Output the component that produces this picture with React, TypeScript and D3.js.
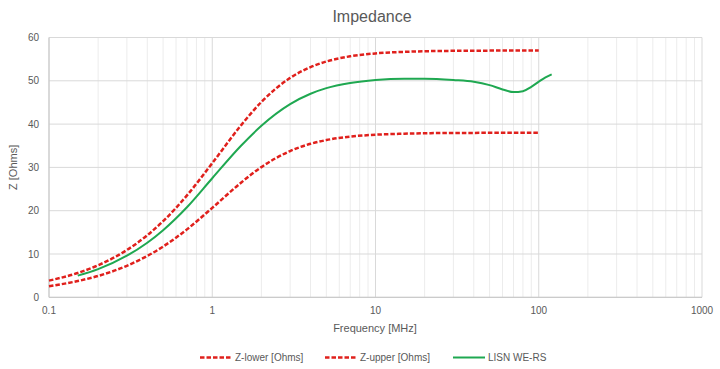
import React from "react";
import * as d3 from "d3";

// frequency [MHz] grid for the limit curves
const limitFreq = [0.1, 0.15, 0.2, 0.3, 0.4, 0.5, 0.7, 1, 1.5, 2, 3, 4, 5, 7, 10, 15, 20, 30, 50, 70, 100];
const zLower = [2.56, 3.75, 4.93, 7.28, 9.55, 11.72, 15.69, 20.65, 26.47, 30.07, 33.78, 35.45, 36.31, 37.11, 37.55, 37.78, 37.89, 37.95, 37.98, 37.99, 38];
const zUpper = [3.85, 5.62, 7.4, 10.92, 14.33, 17.58, 23.53, 30.98, 39.71, 45.11, 50.67, 53.17, 54.46, 55.66, 56.33, 56.68, 56.83, 56.92, 56.97, 56.99, 57];

// measured LISN
const lisnFreq = [0.15, 0.2, 0.3, 0.4, 0.5, 0.7, 1, 1.5, 2, 3, 4, 5, 7, 10, 15, 20, 30, 40, 50, 60, 70, 80, 90, 100, 110, 120];
const lisnZ = [5.0, 6.5, 9.6, 12.6, 15.5, 20.8, 27.5, 35.0, 39.6, 44.6, 47.0, 48.3, 49.5, 50.2, 50.5, 50.5, 50.2, 49.8, 49.0, 48.0, 47.4, 47.6, 48.6, 49.8, 50.8, 51.5];

const xTicks = [0.1, 1, 10, 100, 1000];
const yTicks = [0, 10, 20, 30, 40, 50, 60];

const RED = "#e0201c";
const GREEN = "#1fa851";
const TEXT = "#595959";
const FONT = "'Liberation Sans', Arial, sans-serif";

export default function App() {
  const width = 720;
  const height = 369;
  const left = 49;
  const right = 702;
  const top = 37.5;
  const bottom = 297.3;

  const x = d3.scaleLog().domain([0.1, 1000]).range([left, right]);
  const y = d3.scaleLinear().domain([0, 60]).range([bottom, top]);

  const line = d3
    .line<[number, number]>()
    .x((d) => x(d[0]))
    .y((d) => y(d[1]))
    .curve(d3.curveMonotoneX);

  const minor: number[] = [];
  [0.1, 1, 10, 100].forEach((dec) => {
    for (let k = 2; k <= 9; k++) minor.push(dec * k);
  });

  const lowerPath = line(limitFreq.map((f, i) => [f, zLower[i]]));
  const upperPath = line(limitFreq.map((f, i) => [f, zUpper[i]]));
  const lisnPath = line(lisnFreq.map((f, i) => [f, lisnZ[i]]));

  const legend = [
    { label: "Z-lower [Ohms]", color: RED, dash: "4.5,2", x: 200 },
    { label: "Z-upper [Ohms]", color: RED, dash: "4.5,2", x: 325 },
    { label: "LISN WE-RS", color: GREEN, dash: undefined, x: 453 },
  ];

  return (
    <svg
      width={width}
      height={height}
      style={{ position: "absolute", left: 0, top: 0, background: "#fff" }}
      fontFamily={FONT}
    >
      <text x={372} y={22} textAnchor="middle" fontSize={16} fill={TEXT}>
        Impedance
      </text>

      {/* minor grid */}
      {minor.map((m) => (
        <line key={m} x1={x(m)} x2={x(m)} y1={top} y2={bottom} stroke="#ececec" strokeWidth={1} />
      ))}
      {xTicks.map((t) => (
        <line key={t} x1={x(t)} x2={x(t)} y1={top} y2={bottom} stroke="#d9d9d9" strokeWidth={1} />
      ))}
      {yTicks.map((t) => (
        <line key={t} x1={left} x2={right} y1={y(t)} y2={y(t)} stroke="#d9d9d9" strokeWidth={1} />
      ))}
      <line x1={left} x2={left} y1={top} y2={bottom} stroke="#c6c6c6" />
      <line x1={left} x2={right} y1={bottom} y2={bottom} stroke="#c6c6c6" />

      {/* tick labels */}
      {yTicks.map((t) => (
        <text key={t} x={39} y={y(t) + 3.5} textAnchor="end" fontSize={10} fill={TEXT}>
          {t}
        </text>
      ))}
      {xTicks.map((t) => (
        <text key={t} x={x(t)} y={314} textAnchor="middle" fontSize={10} fill={TEXT}>
          {t}
        </text>
      ))}

      <text x={375} y={332} textAnchor="middle" fontSize={11} fill={TEXT}>
        Frequency [MHz]
      </text>
      <text
        transform={`translate(17,${(top + bottom) / 2}) rotate(-90)`}
        textAnchor="middle"
        fontSize={11}
        fill={TEXT}
      >
        Z [Ohms]
      </text>

      {/* series */}
      <path d={lowerPath ?? ""} fill="none" stroke={RED} strokeWidth={2.5} strokeDasharray="4.5,2" />
      <path d={upperPath ?? ""} fill="none" stroke={RED} strokeWidth={2.5} strokeDasharray="4.5,2" />
      <path d={lisnPath ?? ""} fill="none" stroke={GREEN} strokeWidth={2} />

      {/* legend */}
      {legend.map((l) => (
        <g key={l.label}>
          <line
            x1={l.x}
            x2={l.x + 32}
            y1={357.5}
            y2={357.5}
            stroke={l.color}
            strokeWidth={l.dash ? 2.5 : 2}
            strokeDasharray={l.dash}
          />
          <text x={l.x + 35} y={361} fontSize={10} fill={TEXT}>
            {l.label}
          </text>
        </g>
      ))}
    </svg>
  );
}
